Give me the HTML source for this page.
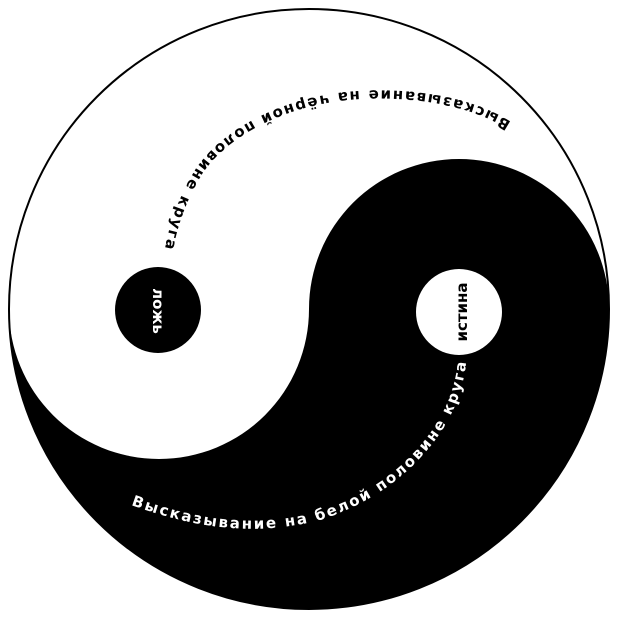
<!DOCTYPE html>
<html><head><meta charset="utf-8"><style>html,body{margin:0;padding:0;background:#fff}svg{display:block}</style></head>
<body>
<svg width="620" height="620" viewBox="0 0 620 620" xmlns="http://www.w3.org/2000/svg">
<rect width="620" height="620" fill="#fff"/>
<circle cx="309" cy="309" r="300" fill="none" stroke="#000" stroke-width="2"/>
<path d="M 9 309 A 300 300 0 0 0 609 309 A 150 150 0 0 0 309 309 A 150 150 0 0 1 9 309 Z" fill="#000"/>
<circle cx="158" cy="310" r="43" fill="#000"/>
<circle cx="459" cy="312" r="43" fill="#fff"/>
<defs>
<path id="pA" d="M 511 122 C 472 96, 405 86, 345 92 C 275 100, 220 132, 195 170 C 177 200, 166 230, 162 270"/>
<path id="pB" d="M 131 505 C 190 526, 250 538, 320 520 C 390 498, 440 448, 458 398 C 464 381, 467 366, 467 340"/>
</defs>
<text font-family="DejaVu Sans, Liberation Sans, sans-serif" font-size="15" font-weight="bold" fill="#000"><textPath href="#pA" textLength="430" lengthAdjust="spacing">Высказывание на чёрной половине круга</textPath></text>
<text font-family="DejaVu Sans, Liberation Sans, sans-serif" font-size="15" font-weight="bold" fill="#fff"><textPath href="#pB" textLength="420" lengthAdjust="spacing">Высказывание на белой половине круга</textPath></text>
<text x="0" y="0" transform="translate(467,312) rotate(-90)" text-anchor="middle" font-family="DejaVu Sans, Liberation Sans, sans-serif" font-size="15" font-weight="bold" fill="#000">истина</text>
<text x="0" y="0" transform="translate(153,311) rotate(90)" text-anchor="middle" font-family="DejaVu Sans, Liberation Sans, sans-serif" font-size="15" font-weight="bold" fill="#fff">ложь</text>
</svg>
</body></html>
